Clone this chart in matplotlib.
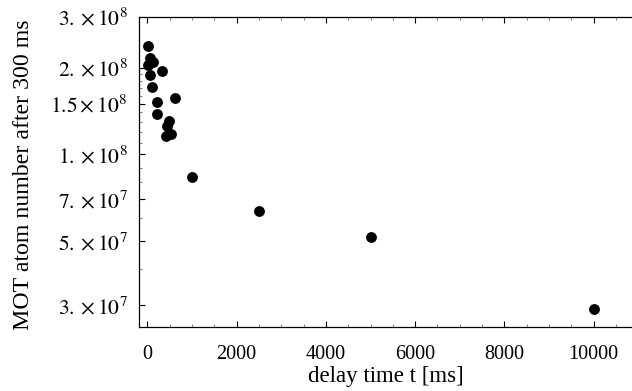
import numpy as np
import matplotlib.pyplot as plt
from matplotlib.ticker import FixedLocator, NullFormatter

# delay time [ms] and MOT atom number after 300 ms
delay_ms = [20, 60, 120, 20, 320, 60, 100, 620, 210, 210, 490, 430, 520, 420,
            1000, 2500, 5000, 10000]
atoms = [2.38e8, 2.17e8, 2.10e8, 2.04e8, 1.95e8, 1.88e8, 1.72e8, 1.57e8, 1.52e8,
         1.38e8, 1.31e8, 1.26e8, 1.18e8, 1.16e8,
         8.36e7, 6.36e7, 5.18e7, 2.90e7]

y_major = [3e7, 5e7, 7e7, 1e8, 1.5e8, 2e8, 3e8]
y_labels = [r'$3.\times10^{7}$', r'$5.\times10^{7}$', r'$7.\times10^{7}$',
            r'$1.\times10^{8}$', r'$1.5\times10^{8}$', r'$2.\times10^{8}$',
            r'$3.\times10^{8}$']
y_minor = [4e7, 6e7, 8e7, 9e7, 1.1e8, 1.2e8, 1.3e8, 1.4e8, 1.6e8, 1.7e8, 1.8e8, 1.9e8]

plt.rcParams['font.family'] = 'Liberation Serif'
plt.rcParams['mathtext.fontset'] = 'stix'

fig = plt.figure(figsize=(6.32, 3.91), dpi=100)
ax = fig.add_axes([139/632, 1-327/391, (632-139)/632, (327-17)/391])

ax.plot(delay_ms, atoms, 'o', color='black', markersize=7.8, markeredgewidth=0)

ax.set_yscale('log')
ax.set_xlim(-186, 10857)
ax.set_ylim(2.52e7, 3.0e8)

ax.yaxis.set_major_locator(FixedLocator(y_major))
ax.set_yticklabels(y_labels)
ax.yaxis.set_minor_locator(FixedLocator(y_minor))
ax.yaxis.set_minor_formatter(NullFormatter())
ax.set_xticks([0, 2000, 4000, 6000, 8000, 10000])
ax.xaxis.set_minor_locator(FixedLocator(np.arange(-0, 11000, 500)))

ax.tick_params(which='both', direction='in', top=True, right=False)
ax.tick_params(axis='x', which='major', labelsize=14.5, pad=13)
ax.tick_params(axis='y', which='major', labelsize=15.5, pad=8)
ax.tick_params(which='major', length=4, width=0.8)
ax.tick_params(which='minor', length=2.5, width=0.6, color='0.4')
ax.spines['right'].set_visible(False)
for pos in ['left', 'top', 'bottom']:
	ax.spines[pos].set_linewidth(0.9)

ax.set_xlabel('delay time t [ms]', fontsize=16.5)
ax.set_ylabel('MOT atom number after 300 ms', fontsize=17.2)
ax.xaxis.set_label_coords(0.5, -0.126)
ax.yaxis.set_label_coords(-0.213, 0.49)

fig.savefig('out.png', dpi=100)
